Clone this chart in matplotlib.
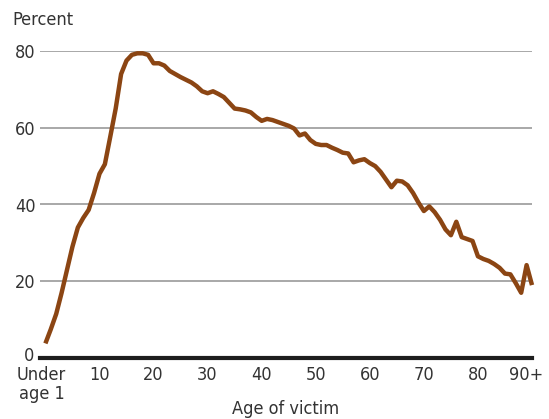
import matplotlib.pyplot as plt
from matplotlib.transforms import ScaledTranslation

# age index: 0 = under age 1, 90 = 90+
ages = list(range(0, 91))
percent = [
    3.8, 7.5, 11.5, 17.0, 23.0, 29.0, 34.0, 36.5, 38.6, 43.0,
    48.0, 50.5, 57.7, 65.0, 74.0, 77.5, 79.0, 79.4, 79.4, 79.0,
    76.8, 76.8, 76.2, 74.8, 74.0, 73.2, 72.5, 71.8, 70.8, 69.5,
    69.0, 69.5, 68.8, 68.0, 66.5, 65.0, 64.8, 64.5, 64.0, 62.8,
    61.8, 62.3, 62.0, 61.5, 61.0, 60.5, 59.8, 58.0, 58.5, 56.8,
    55.8, 55.5, 55.5, 54.8, 54.2, 53.5, 53.3, 51.0, 51.5, 51.8,
    50.8, 50.0, 48.5, 46.5, 44.5, 46.2, 46.0, 45.0, 43.0, 40.5,
    38.3, 39.5, 38.0, 36.0, 33.5, 32.0, 35.5, 31.5, 31.0, 30.5,
    26.5, 25.8, 25.3, 24.5, 23.5, 22.0, 21.8, 19.5, 17.0, 24.2,
    19.0,
]
x_ticks = [0, 10, 20, 30, 40, 50, 60, 70, 80, 90]
x_tick_labels = ['Under\nage 1', '10', '20', '30', '40', '50', '60', '70', '80', '90+']
y_ticks = [0, 20, 40, 60, 80]

plt.rcParams['font.family'] = ['DejaVu Sans']
plt.rcParams['font.stretch'] = 'condensed'
text_color = '#333333'

fig = plt.figure(figsize=(5.49, 4.19), dpi=100)
ax = fig.add_axes([40 / 549, 1 - 358 / 419, 492 / 549, 307 / 419])

for y in y_ticks[1:]:
    ax.axhline(y, color='#9a9a9a', linewidth=1.2, zorder=1)
ax.axhline(0, color='#1e1e1e', linewidth=3, zorder=2, clip_on=False)

ax.plot(ages, percent, color='#8B4513', linewidth=3.2, solid_capstyle='butt',
        zorder=3, clip_on=False)

ax.set_xlim(-1, 90)
ax.set_ylim(0, 80)
for s in ax.spines.values():
    s.set_visible(False)

ax.set_xticks(x_ticks)
ax.set_xticklabels(x_tick_labels, linespacing=1.05)
ax.set_yticks(y_ticks)
ax.tick_params(length=0, labelsize=13, colors=text_color, pad=3)
ax.tick_params(axis='x', pad=6)

# nudge labels like the original
def nudge(label, dx, dy):
    label.set_transform(label.get_transform() + ScaledTranslation(dx / 100, dy / 100, fig.dpi_scale_trans))

xl = ax.get_xticklabels()
nudge(xl[0], -4, 0)
nudge(xl[-1], -6, 0)
nudge(ax.get_yticklabels()[0], -2, 4)

ax.set_xlabel('Age of victim', fontsize=13, color=text_color, labelpad=-2)
fig.text(12 / 549, 1 - 20 / 419, 'Percent', fontsize=13, color=text_color,
         va='center', ha='left')

fig.savefig('out.png', dpi=100)
